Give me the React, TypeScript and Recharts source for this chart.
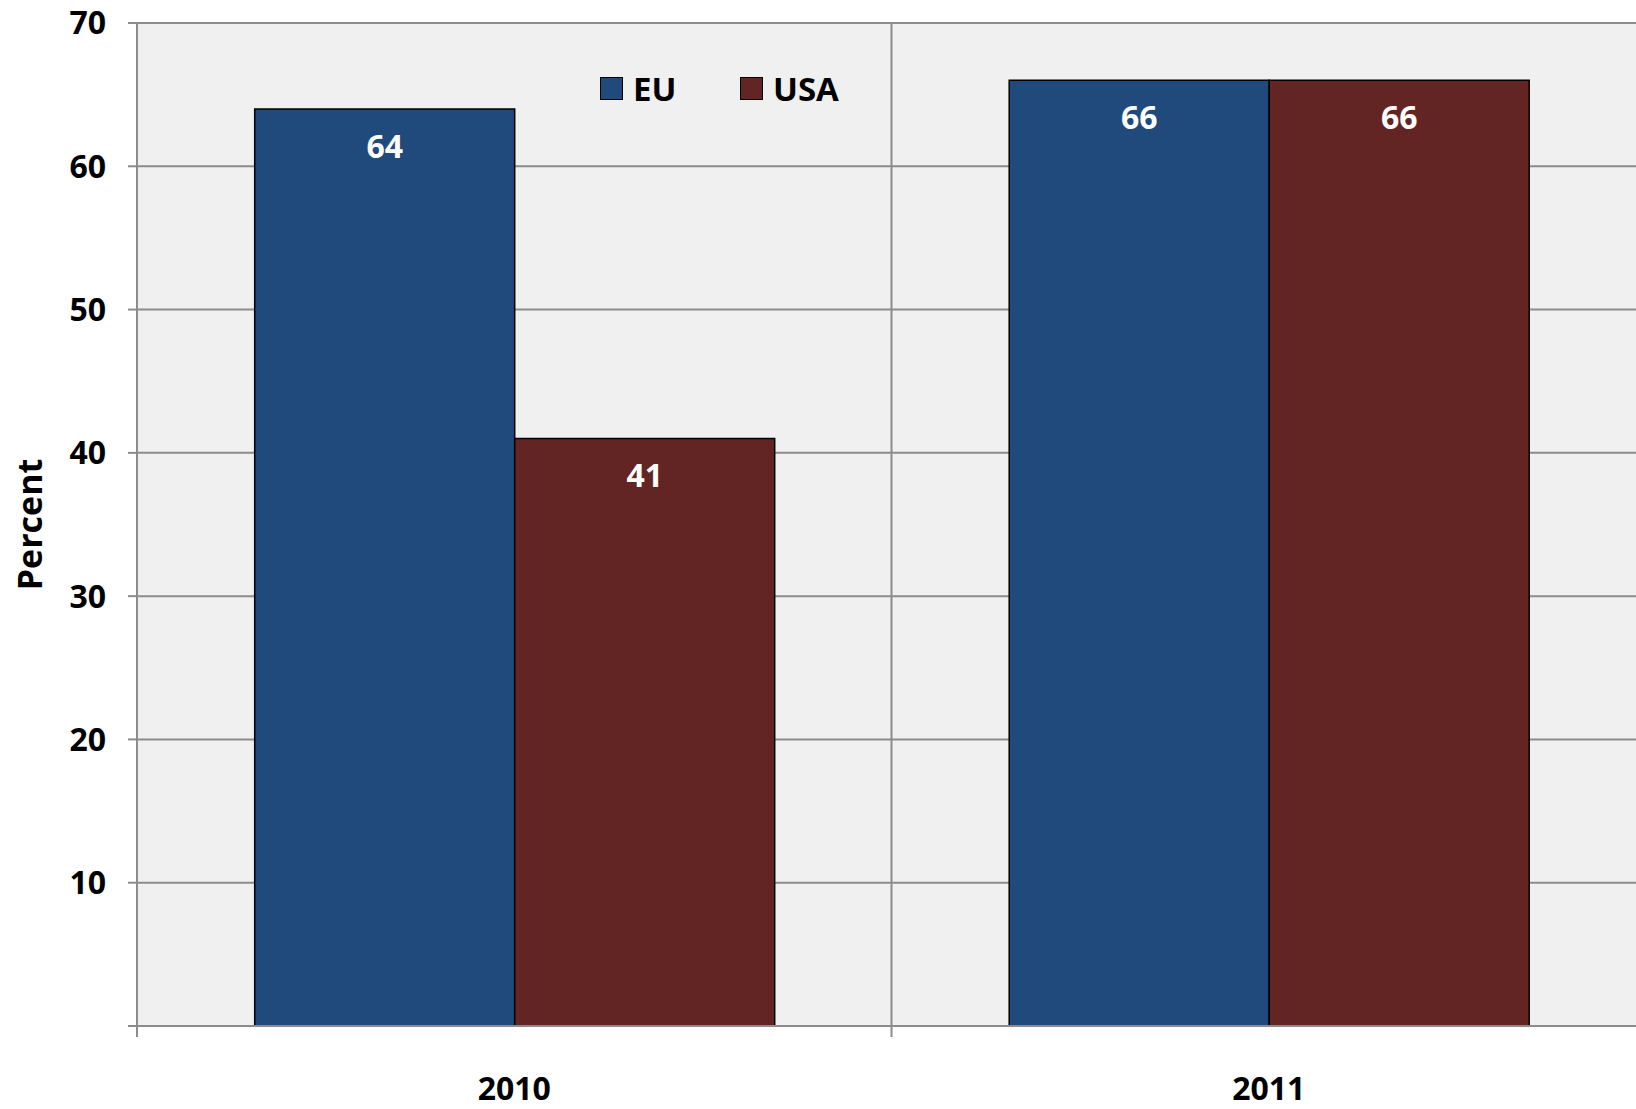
import React from 'react'
import { BarChart, Bar, XAxis, YAxis, CartesianGrid, Legend, LabelList } from 'recharts'

const years = ['2010', '2011']
const euValues = [64, 66]
const usaValues = [41, 66]
const yTicks = [0, 10, 20, 30, 40, 50, 60, 70]

const data = years.map((year, i) => ({ year, EU: euValues[i], USA: usaValues[i] }))

const FONT = '"Open Sans", "Noto Sans", sans-serif'
const GRID = '#8c8c8c'
const EU_COLOR = '#204a7c'
const USA_COLOR = '#632524'

function PercentLabel(props: any) {
  const { viewBox } = props
  const x = viewBox.x + 42
  const y = viewBox.y + viewBox.height / 2
  return (
    <text
      x={x}
      y={y}
      transform={`rotate(-90 ${x} ${y})`}
      textAnchor="middle"
      fontFamily={FONT}
      fontSize={34}
      fontWeight={700}
      fill="#000"
    >
      Percent
    </text>
  )
}

// year label plus the little tick mark at the left edge of each category band
function YearTick(props: any) {
  const { x, y, payload } = props
  const half = payload.offset ?? 0
  return (
    <g>
      <line x1={x - half} x2={x - half} y1={y} y2={y + 11} stroke={GRID} strokeWidth={2} />
      <text
        x={x}
        y={y + 51}
        dy="0.71em"
        textAnchor="middle"
        fontFamily={FONT}
        fontSize={32}
        fontWeight={700}
        fill="#000"
      >
        {payload.value}
      </text>
    </g>
  )
}

function LegendContent(props: any) {
  const { payload = [] } = props
  return (
    <div style={{ display: 'flex', alignItems: 'center' }}>
      {payload.map((entry: any, i: number) => (
        <div key={entry.value} style={{ display: 'flex', alignItems: 'center', width: i === 0 ? 140 : 'auto' }}>
          <span
            style={{
              display: 'inline-block',
              width: 21,
              height: 21,
              background: entry.color,
              border: '1.5px solid #000',
              marginRight: 10,
            }}
          />
          <span style={{ fontFamily: FONT, fontSize: 33, fontWeight: 700, lineHeight: '33px', color: '#000' }}>
            {entry.value}
          </span>
        </div>
      ))}
    </div>
  )
}

export default function App() {
  const tickStyle = { fontFamily: FONT, fontSize: 32, fontWeight: 700, fill: '#000' }
  return (
    <div style={{ position: 'absolute', left: 0, top: 0, width: 1636, height: 1109, overflow: 'hidden', background: '#fff' }}>
      <BarChart
        width={1649}
        height={1109}
        data={data}
        margin={{ top: 23, right: 3, bottom: 0, left: 0 }}
        barCategoryGap="15.6%"
        barGap={0}
      >
        <CartesianGrid
          stroke={GRID}
          strokeWidth={2}
          fill="#f0f0f0"
          fillOpacity={1}
          verticalCoordinatesGenerator={({ offset }: any) =>
            years.map((_, i) => offset.left + (offset.width * i) / years.length)
          }
        />
        <XAxis
          dataKey="year"
          height={83}
          axisLine={{ stroke: GRID, strokeWidth: 2 }}
          tickLine={false}
          tickSize={0}
          tickMargin={0}
          tick={<YearTick />}
        />
        <YAxis
          width={137}
          domain={[0, 70]}
          ticks={yTicks}
          interval={0}
          tickSize={9}
          tickMargin={22}
          tickFormatter={(v: number) => (v === 0 ? '' : String(v))}
          axisLine={{ stroke: GRID, strokeWidth: 2 }}
          tickLine={{ stroke: GRID, strokeWidth: 2 }}
          tick={tickStyle}
          label={{ content: PercentLabel }}
        />
        <Legend
          layout="horizontal"
          verticalAlign="middle"
          align="center"
          content={LegendContent}
          wrapperStyle={{ top: 72, left: 600, width: 'auto' }}
        />
        <Bar dataKey="EU" name="EU" fill={EU_COLOR} stroke="#000" strokeWidth={1.5} isAnimationActive={false}>
          <LabelList dataKey="EU" position="insideTop" offset={26} fill="#fff" fontFamily={FONT} fontSize={32} fontWeight={700} />
        </Bar>
        <Bar dataKey="USA" name="USA" fill={USA_COLOR} stroke="#000" strokeWidth={1.5} isAnimationActive={false}>
          <LabelList dataKey="USA" position="insideTop" offset={26} fill="#fff" fontFamily={FONT} fontSize={32} fontWeight={700} />
        </Bar>
      </BarChart>
    </div>
  )
}
